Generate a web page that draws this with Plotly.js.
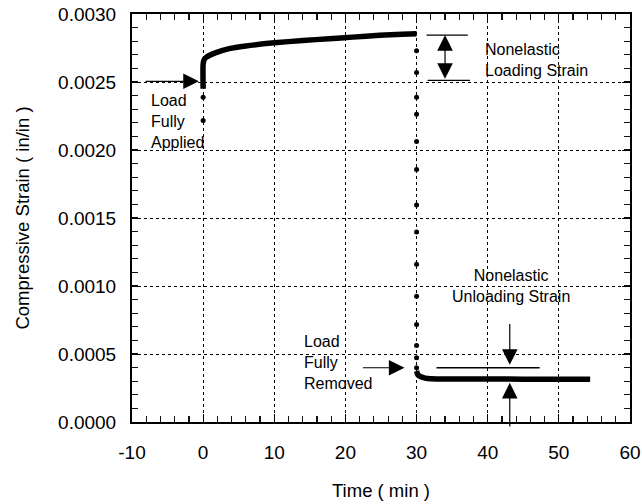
<!DOCTYPE html>
<html>
<head>
<meta charset="utf-8">
<script src="https://cdn.plot.ly/plotly-3.0.1.min.js"></script>
<style>html,body{margin:0;padding:0;background:#fff;}#chart{width:642px;height:504px;}</style>
</head>
<body>
<div id="chart"></div>
<script>
// Loading: discrete readings during load application (t = 0)
const loadDotTime = [0, 0];
const loadDotStrain = [0.002217, 0.002387];
// Creep under sustained load
const creepTime = [0, 0, 0.15, 0.4, 0.85, 1.8, 3.66, 6, 10, 14, 17.7, 21, 24.8, 28, 30];
const creepStrain = [0.00245, 0.00263, 0.002665, 0.00268, 0.002695, 0.002716, 0.002745, 0.002765, 0.002788, 0.002805, 0.002818, 0.00283, 0.002843, 0.002851, 0.002855];
// Unloading: discrete readings at t = 30
const unloadDotTime = [30, 30, 30, 30, 30, 30, 30, 30, 30, 30, 30, 30, 30, 30];
const unloadDotStrain = [0.002729, 0.002570, 0.002387, 0.002262, 0.002062, 0.001857, 0.001596, 0.001397, 0.001160, 0.000924, 0.000717, 0.000562, 0.000473, 0.000399];
// Recovery after load removal
const recovTime = [30, 30.2, 30.6, 31.2, 32, 35, 40, 45, 50, 54.4];
const recovStrain = [0.000375, 0.000345, 0.000332, 0.000323, 0.000318, 0.000316, 0.000316, 0.000315, 0.000315, 0.000315];

const xTickVals = [-10, 0, 10, 20, 30, 40, 50, 60];
const yTickVals = [0, 0.0005, 0.0010, 0.0015, 0.0020, 0.0025, 0.0030];

const FONT = 'Liberation Sans, Arial, Helvetica, sans-serif';

const traces = [
  {x: creepTime, y: creepStrain, mode: 'lines', line: {color: '#000', width: 5.5, shape: 'spline', smoothing: 0.6}, hoverinfo: 'skip'},
  {x: recovTime, y: recovStrain, mode: 'lines', line: {color: '#000', width: 5.5, shape: 'spline', smoothing: 0.6}, hoverinfo: 'skip'},
  {x: loadDotTime, y: loadDotStrain, mode: 'markers', marker: {color: '#000', size: 5}},
  {x: unloadDotTime, y: unloadDotStrain, mode: 'markers', marker: {color: '#000', size: 5}}
];

const axisCommon = {
  showline: true, linecolor: '#000', linewidth: 2, mirror: 'ticks',
  ticks: 'inside', ticklen: 8, tickcolor: '#000', tickwidth: 1,
  showgrid: true, gridcolor: '#000', gridwidth: 1, griddash: 'dot',
  zeroline: false,
  tickfont: {family: FONT, size: 19, color: '#000'}
};

const arrowBase = {showarrow: true, arrowhead: 2, arrowsize: 2.6, arrowwidth: 1.2, arrowcolor: '#000', text: '', axref: 'x', ayref: 'y', xref: 'x', yref: 'y'};
const txt = (x, y, text, xanchor, align) => ({x, y, xref: 'x', yref: 'y', text, showarrow: false, xanchor, yanchor: 'middle', align, font: {family: FONT, size: 16, color: '#000'}});

const layout = {
  width: 642, height: 504,
  margin: {l: 132, r: 12, t: 14, b: 82},
  paper_bgcolor: '#fff', plot_bgcolor: '#fff',
  showlegend: false,
  font: {family: FONT, color: '#000'},
  xaxis: Object.assign({}, axisCommon, {
    range: [-10, 60], tickmode: 'array', tickvals: xTickVals, ticktext: xTickVals.map(String),
    ticklabelstandoff: 12,
    minor: {dtick: 2, ticks: 'inside', ticklen: 6, tickcolor: '#111', tickwidth: 1.2},
    title: {text: 'Time ( min )', font: {family: FONT, size: 18.5, color: '#000'}, standoff: 22}
  }),
  yaxis: Object.assign({}, axisCommon, {
    range: [0, 0.003], tickmode: 'array', tickvals: yTickVals, ticktext: yTickVals.map(v => v.toFixed(4)),
    ticklabelstandoff: 10,
    minor: {dtick: 0.0001, ticks: 'inside', ticklen: 6, tickcolor: '#111', tickwidth: 1.2},
    title: {text: 'Compressive Strain ( in/in )', font: {family: FONT, size: 18.5, color: '#000'}, standoff: 24}
  }),
  shapes: [
    {type: 'line', xref: 'x', yref: 'y', x0: 31.4, x1: 37.2, y0: 0.002845, y1: 0.002845, line: {color: '#000', width: 1.3}},
    {type: 'line', xref: 'x', yref: 'y', x0: 31.55, x1: 37.5, y0: 0.002512, y1: 0.002512, line: {color: '#000', width: 1.3}},
    {type: 'line', xref: 'x', yref: 'y', x0: 32.8, x1: 47.3, y0: 0.000399, y1: 0.000399, line: {color: '#000', width: 1.3}}
  ],
  annotations: [
    Object.assign({}, arrowBase, {x: -0.6, y: 0.002505, ax: -8.3, ay: 0.002505}),
    txt(-7.6, 0.002207, 'Load<br>Fully<br>Applied', 'left', 'left'),
    Object.assign({}, arrowBase, {x: 34.0, y: 0.002845, ax: 34.0, ay: 0.002512, arrowside: 'end+start'}),
    txt(39.3, 0.002662, 'Nonelastic<br>Loading Strain', 'left', 'left'),
    Object.assign({}, arrowBase, {x: 28.3, y: 0.000399, ax: 22.25, ay: 0.000399}),
    txt(13.94, 0.000434, 'Load<br>Fully<br>Removed', 'left', 'left'),
    txt(43.3, 0.000998, 'Nonelastic<br>Unloading Strain', 'center', 'center'),
    Object.assign({}, arrowBase, {x: 43.1, y: 0.000421, ax: 43.1, ay: 0.000732}),
    Object.assign({}, arrowBase, {x: 43.1, y: 0.000288, ax: 43.1, ay: -0.0000443})
  ]
};

Plotly.newPlot('chart', traces, layout, {displayModeBar: false, staticPlot: true});
</script>
</body>
</html>
